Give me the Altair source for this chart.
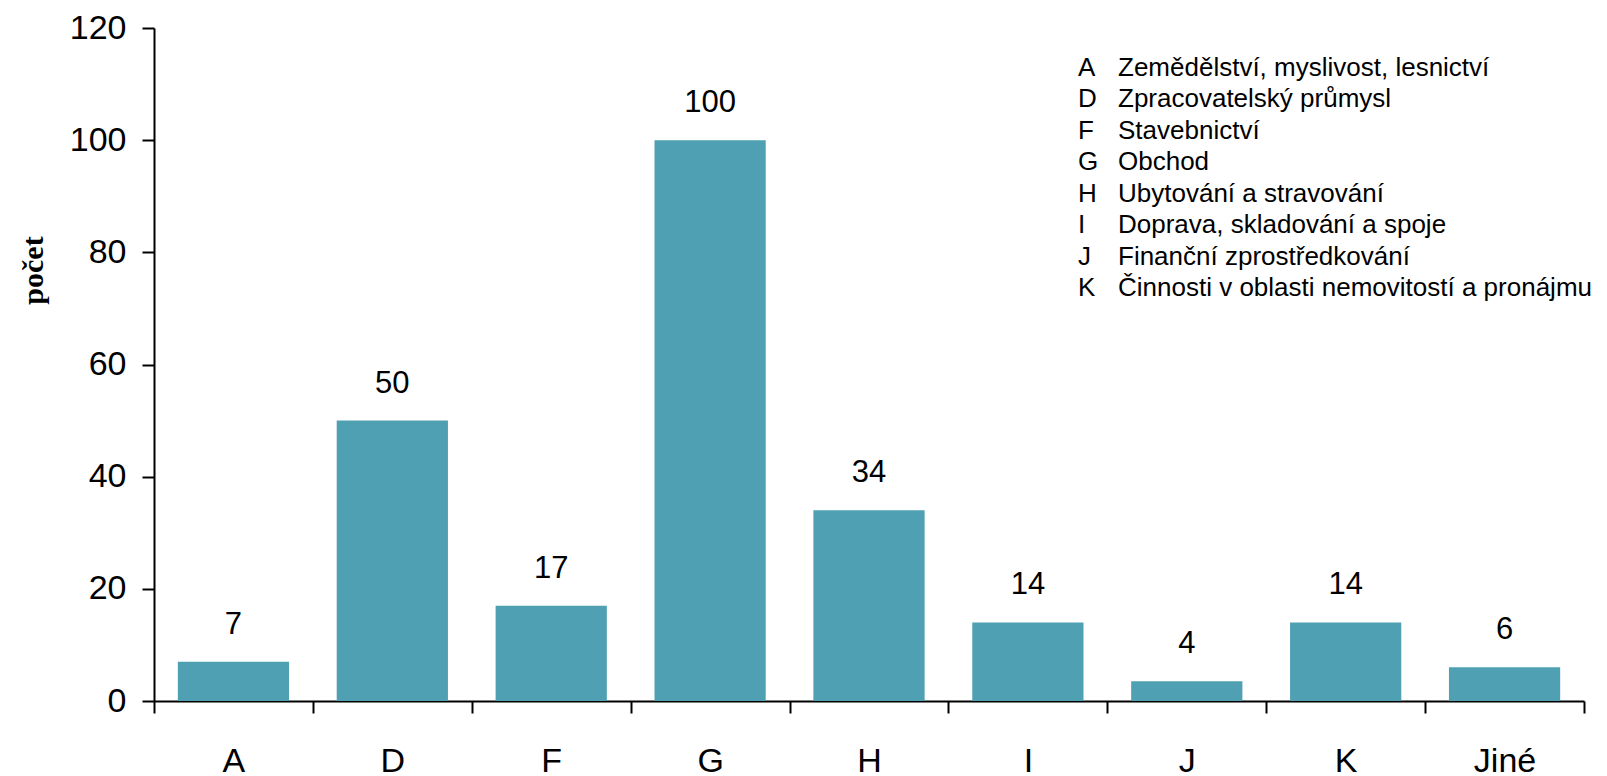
import altair as alt
import pandas as pd

categories = ["A", "D", "F", "G", "H", "I", "J", "K", "Jiné"]
values = [7, 50, 17, 100, 34, 14, 3.5, 14, 6]

legend_codes = ["A", "D", "F", "G", "H", "I", "J", "K"]
legend_names = [
    "Zemědělství, myslivost, lesnictví",
    "Zpracovatelský průmysl",
    "Stavebnictví",
    "Obchod",
    "Ubytování a stravování",
    "Doprava, skladování a spoje",
    "Finanční zprostředkování",
    "Činnosti v oblasti nemovitostí a pronájmu",
]
y_ticks = [0, 20, 40, 60, 80, 100, 120]

df = pd.DataFrame({"cat": categories, "value": values})
leg = pd.DataFrame({"code": legend_codes, "name": legend_names})

FONT = "Liberation Sans"
BAR = "#4EA0B2"

x_enc = alt.X(
    "cat:N",
    sort=categories,
    title=None,
    scale=alt.Scale(paddingInner=0, paddingOuter=0),
    axis=alt.Axis(
        labelAngle=0,
        tickBand="extent",
        labelBaseline="alphabetic",
        labelPadding=58,
        labelFontSize=34,
    ),
)
y_enc = alt.Y(
    "value:Q",
    scale=alt.Scale(domain=[0, 120], nice=False),
    axis=alt.Axis(
        values=y_ticks,
        title="počet",
        titleFont="Liberation Serif",
        titleFontWeight="bold",
        titleFontSize=30,
        titleAngle=270,
        titleAlign="center",
        titleBaseline="middle",
        titleX=-121,
        titleY=242,
        titleLimit=400,
        labelPadding=16,
        labelFontSize=34,
    ),
)

bars = alt.Chart(df).mark_bar(
    color=BAR, width=alt.RelativeBandSize(0.7)
).encode(x=x_enc, y=y_enc)
labels = alt.Chart(df).mark_text(
    dy=-28, baseline="alphabetic", fontSize=31, font=FONT, color="black"
).encode(
    x=alt.X("cat:N", sort=categories),
    y=alt.Y("value:Q"),
    text=alt.Text("value:Q", format=".0f"),
)

leg_y = alt.Y(
    "code:N",
    sort=legend_codes,
    scale=alt.Scale(range=[40, 260], padding=0),
    axis=None,
)
leg_codes = alt.Chart(leg).mark_text(
    align="left", baseline="middle", fontSize=26, font=FONT, color="black"
).encode(x=alt.value(924), y=leg_y, text="code:N")
leg_names = alt.Chart(leg).mark_text(
    align="left", baseline="middle", fontSize=26, font=FONT, color="black"
).encode(x=alt.value(964), y=leg_y, text="name:N")

main = alt.layer(bars, labels)
legend = alt.layer(leg_codes, leg_names)

chart = (
    alt.layer(main, legend)
    .resolve_scale(y="independent")
    .properties(
        width=1430,
        height=673,
        autosize=alt.AutoSizeParams(type="none"),
        padding={"left": 146, "top": 20, "right": 15, "bottom": 85},
    )
    .configure_view(stroke=None)
    .configure_axis(
        grid=False,
        domainColor="black",
        domainWidth=2,
        tickColor="black",
        tickWidth=2,
        tickSize=12,
        labelFont=FONT,
        labelColor="black",
        titleColor="black",
    )
)

chart.save("out.html", embed_options={"renderer": "svg", "actions": False})
